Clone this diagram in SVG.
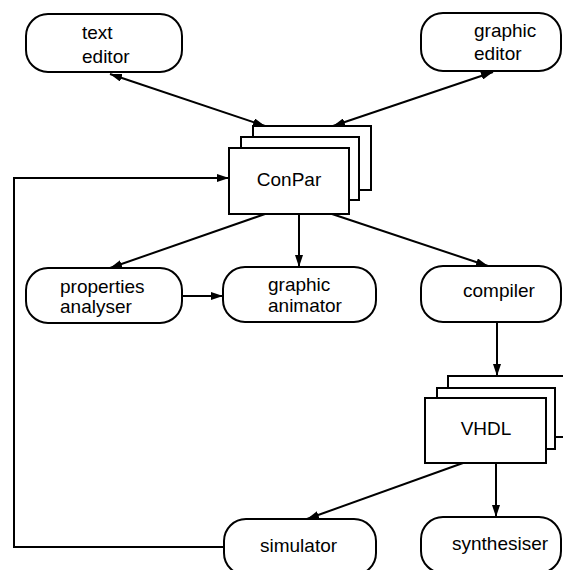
<svg xmlns="http://www.w3.org/2000/svg" width="563" height="570" viewBox="0 0 563 570">
<style>
.box{fill:#fff;stroke:#000;stroke-width:2}
.t{font-family:"Liberation Sans",Arial,sans-serif;font-size:19px;fill:#000}
.c{text-anchor:middle}
.ln{fill:none;stroke:#000;stroke-width:2}
</style>
<defs>
<marker id="ah" viewBox="0 0 12 8" refX="12" refY="4" markerWidth="12" markerHeight="8" markerUnits="userSpaceOnUse" orient="auto-start-reverse">
<path d="M0,0 L12,4 L0,8 Z" fill="#000"/>
</marker>
</defs>
<rect width="563" height="570" fill="#fff"/>
<g id="connectors">
<line class="ln" x1="110" y1="74" x2="265" y2="126" marker-start="url(#ah)" marker-end="url(#ah)"/>
<line class="ln" x1="493" y1="72" x2="333" y2="126" marker-start="url(#ah)" marker-end="url(#ah)"/>
<line class="ln" x1="265" y1="214" x2="110" y2="268" marker-end="url(#ah)"/>
<line class="ln" x1="299" y1="214" x2="299" y2="267" marker-end="url(#ah)"/>
<line class="ln" x1="332" y1="214" x2="488" y2="266" marker-end="url(#ah)"/>
<line class="ln" x1="182" y1="296" x2="223" y2="296" marker-end="url(#ah)"/>
<line class="ln" x1="497" y1="322" x2="497" y2="376" marker-end="url(#ah)"/>
<line class="ln" x1="463" y1="463" x2="307" y2="519" marker-end="url(#ah)"/>
<line class="ln" x1="496" y1="463" x2="496" y2="517" marker-end="url(#ah)"/>
<polyline class="ln" points="224,547 14,547 14,178 229,178" marker-end="url(#ah)"/>
</g>
<g id="text-editor">
<rect class="box" x="26" y="14" width="156" height="58" rx="22"/>
<text class="t" x="82" y="39">text</text>
<text class="t" x="82" y="63">editor</text>
</g>
<g id="graphic-editor">
<rect class="box" x="421" y="13" width="140" height="58" rx="22"/>
<text class="t" x="474" y="37">graphic</text>
<text class="t" x="474" y="60">editor</text>
</g>
<g id="conpar">
<rect class="box" x="253" y="126" width="118" height="64"/>
<rect class="box" x="241" y="137" width="118" height="63"/>
<rect class="box" x="229" y="148" width="120" height="66"/>
<text class="t c" x="289" y="186">ConPar</text>
</g>
<g id="properties-analyser">
<rect class="box" x="26" y="268" width="156" height="55" rx="22"/>
<text class="t" x="60" y="293">properties</text>
<text class="t" x="60" y="313">analyser</text>
</g>
<g id="graphic-animator">
<rect class="box" x="223" y="267" width="153" height="55" rx="22"/>
<text class="t" x="268" y="291">graphic</text>
<text class="t" x="268" y="312">animator</text>
</g>
<g id="compiler">
<rect class="box" x="421" y="266" width="140" height="56" rx="22"/>
<text class="t" x="463" y="297">compiler</text>
</g>
<g id="vhdl">
<rect class="box" x="448" y="376" width="122" height="61"/>
<rect class="box" x="437" y="388" width="118" height="61"/>
<rect class="box" x="425" y="398" width="121" height="65"/>
<text class="t c" x="486" y="435">VHDL</text>
</g>
<g id="simulator">
<rect class="box" x="224" y="519" width="152" height="56" rx="22"/>
<text class="t" x="260" y="552">simulator</text>
</g>
<g id="synthesiser">
<rect class="box" x="421" y="517" width="140" height="56" rx="22"/>
<text class="t" x="452" y="550">synthesiser</text>
</g>
</svg>
